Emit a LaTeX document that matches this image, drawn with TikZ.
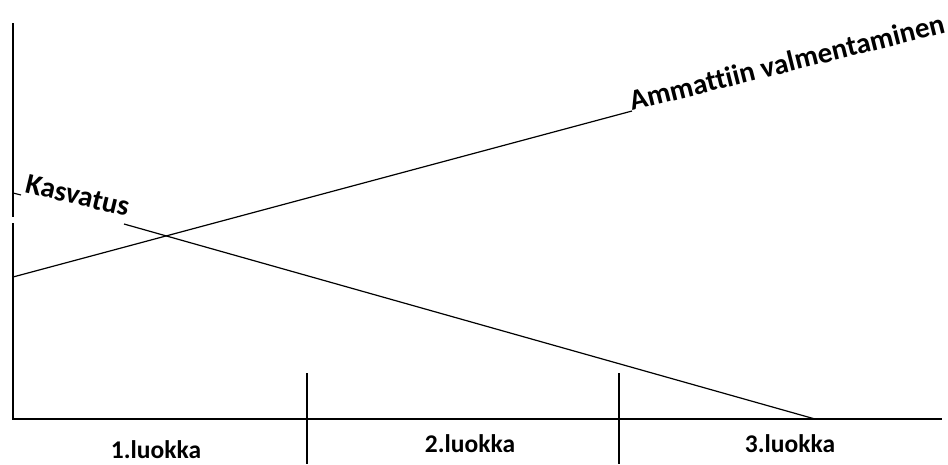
\documentclass[tikz,border=0pt]{standalone}
\usepackage{fontspec}
\setmainfont{Carlito}[Ligatures=NoCommon]
\tikzset{
  axisline/.style={line width=1.3pt, black},
  trendline/.style={line width=1.2pt, black},
  ticklabel/.style={font=\bfseries\fontsize{25.5}{29}\selectfont, inner sep=0pt, anchor=base},
  curvelabel/.style={font=\bfseries\fontsize{29}{32}\selectfont, inner sep=0pt, anchor=base west},
}
\begin{document}
\begin{tikzpicture}[x=1pt,y=-1pt]
\useasboundingbox (0,0) rectangle (948,464);
% axes
\coordinate (top) at (13,23);
\coordinate (gapA) at (13,217);
\coordinate (gapB) at (13,223);
\coordinate (O) at (13,419);
\coordinate (xend) at (942,419);
\draw[axisline] (top) -- (gapA);
\draw[axisline] (gapB) -- (O) -- (xend);
% grade dividers
\coordinate (t1a) at (307,373);
\coordinate (t1b) at (307,464);
\coordinate (t2a) at (619,373);
\coordinate (t2b) at (619,464);
\draw[axisline] (t1a) -- (t1b);
\draw[axisline] (t2a) -- (t2b);
% labels
\node[ticklabel] (l1) at (156,458) {1.luokka};
\node[ticklabel] (l2) at (470,452) {2.luokka};
\node[ticklabel] (l3) at (790,452) {3.luokka};
% Ammattiin valmentaminen
\coordinate (a0) at (13,277);
\node[curvelabel, rotate=14] (a) at (632,111) {Ammattiin valmentaminen};
\draw[trendline] (a0) -- (a.base west);
% Kasvatus
\coordinate (k0) at (13,193);
\coordinate (k1) at (21,195);
\coordinate (k2) at (124,224);
\coordinate (k3) at (815,419);
\node[curvelabel, rotate=-13.5] (k) at (24,192) {Kasvatus};
\draw[trendline] (k0) -- (k1);
\draw[trendline] (k2) -- (k3);
\end{tikzpicture}
\end{document}
